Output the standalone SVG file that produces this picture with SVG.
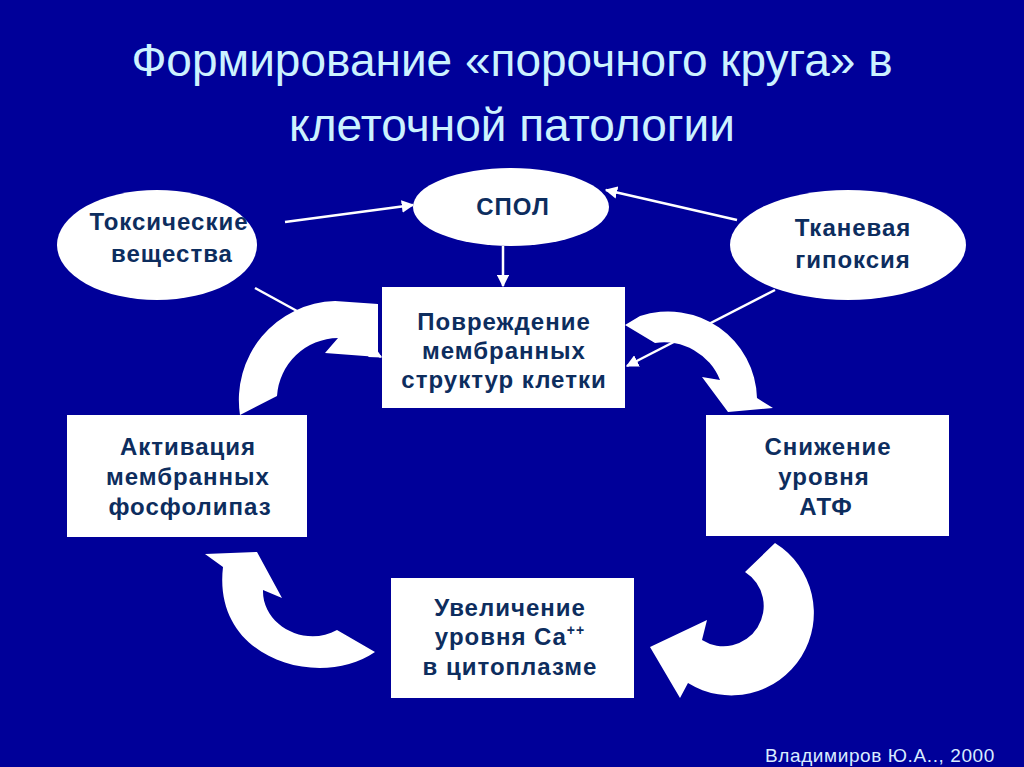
<svg xmlns="http://www.w3.org/2000/svg" width="1024" height="767" viewBox="0 0 1024 767">
<defs>
<style>
.title{font-family:"Liberation Sans",Arial,sans-serif;font-size:46px;fill:#ccf2ff;text-anchor:middle}
.node{fill:#ffffff}
.lbl{font-family:"Liberation Sans",Arial,sans-serif;font-size:24px;font-weight:bold;fill:#0d2d5e;text-anchor:middle;letter-spacing:1px}
.conn{stroke:#ffffff;stroke-width:2.5;fill:none}
.big{fill:#ffffff}
.credit{font-family:"Liberation Sans",Arial,sans-serif;font-size:19px;fill:#d8ecff;letter-spacing:0.6px}
</style>
<marker id="ah" viewBox="0 0 10 10" refX="9" refY="5" markerWidth="5" markerHeight="5" orient="auto" markerUnits="strokeWidth">
<path d="M0,0 L10,5 L0,10 Z" fill="#ffffff"/>
</marker>
</defs>
<rect x="0" y="0" width="1024" height="767" fill="#000099"/>
<text class="title" x="512" y="76">Формирование «порочного круга» в</text>
<text class="title" x="512" y="141">клеточной патологии</text>

<g id="connectors">
<line class="conn" x1="285" y1="222" x2="413" y2="205" marker-end="url(#ah)"/>
<line class="conn" x1="737" y1="220" x2="606" y2="190" marker-end="url(#ah)"/>
<line class="conn" x1="503" y1="246" x2="503" y2="286" marker-end="url(#ah)"/>
<line class="conn" x1="255" y1="288" x2="381" y2="357" marker-end="url(#ah)"/>
<line class="conn" x1="775" y1="290" x2="627" y2="366" marker-end="url(#ah)"/>
</g>

<g id="cycle-arrows">
<path class="big" d="M240,415 A99,99 0 0 1 335,301 L378,304 L378,357 L325,353 L338,338 A62,62 0 0 0 277,396 Z"/>
<path class="big" d="M625,325 L640,316 A89,89 0 0 1 757,398 L773,408 L728,412 L702,377 L720,380 A60,60 0 0 0 655,343 Z"/>
<path class="big" d="M775,543 A82,82 0 0 1 688,683 L680,698 L650,647 L707,620 L702,640 A38,38 0 0 0 745,572 Z"/>
<path class="big" d="M205,554 L257,552 L282,598 L263,590 C262,625 305,648 337,630 L375,652 C320,690 212,660 223,567 Z"/>
</g>

<g id="toxic">
<ellipse class="node" cx="157" cy="245" rx="100" ry="55"/>
<text class="lbl" x="169" y="230">Токсические</text>
<text class="lbl" x="172" y="262">вещества</text>
</g>
<g id="spol">
<ellipse class="node" cx="511" cy="207" rx="98" ry="39"/>
<text class="lbl" x="513" y="215">СПОЛ</text>
</g>
<g id="hypoxia">
<ellipse class="node" cx="848" cy="245" rx="118" ry="55"/>
<text class="lbl" x="853" y="236">Тканевая</text>
<text class="lbl" x="853" y="268">гипоксия</text>
</g>
<g id="damage">
<rect class="node" x="382" y="287" width="243" height="121"/>
<text class="lbl" x="504" y="330">Повреждение</text>
<text class="lbl" x="504" y="359">мембранных</text>
<text class="lbl" x="504" y="388">структур клетки</text>
</g>
<g id="activation">
<rect class="node" x="67" y="415" width="240" height="122"/>
<text class="lbl" x="188" y="455">Активация</text>
<text class="lbl" x="188" y="485">мембранных</text>
<text class="lbl" x="190" y="515">фосфолипаз</text>
</g>
<g id="atp">
<rect class="node" x="706" y="415" width="243" height="121"/>
<text class="lbl" x="828" y="455">Снижение</text>
<text class="lbl" x="824" y="485">уровня</text>
<text class="lbl" x="826" y="515">АТФ</text>
</g>
<g id="calcium">
<rect class="node" x="391" y="578" width="243" height="120"/>
<text class="lbl" x="510" y="616">Увеличение</text>
<text class="lbl" x="510" y="645">уровня Ca<tspan font-size="14" dy="-10">++</tspan></text>
<text class="lbl" x="510" y="675">в цитоплазме</text>
</g>
<text class="credit" x="765" y="762">Владимиров Ю.А.., 2000</text>
</svg>
